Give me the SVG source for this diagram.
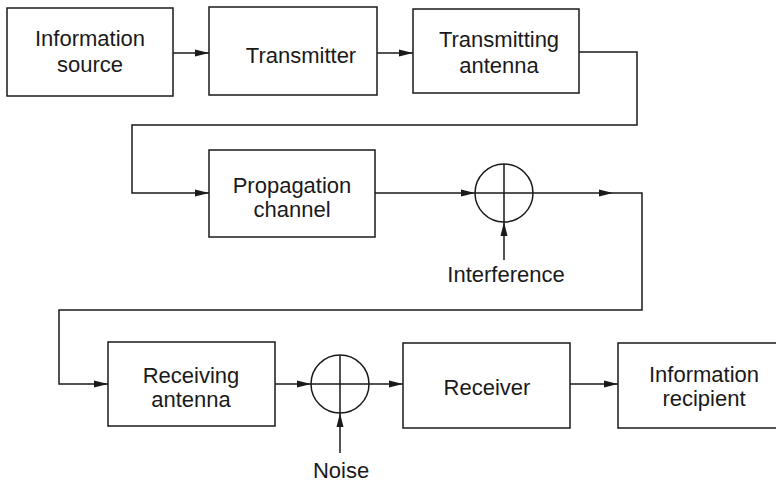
<svg xmlns="http://www.w3.org/2000/svg" width="776" height="485" viewBox="0 0 776 485">
<defs>
<marker id="arr" markerUnits="userSpaceOnUse" markerWidth="14" markerHeight="8" refX="14" refY="4" orient="auto">
<path d="M0,0.5 L14,4 L0,7.5 z" fill="#1a1a1a"/>
</marker>
</defs>
<style>
.box{fill:#fff;stroke:#1a1a1a;stroke-width:1.5}
.ln{fill:none;stroke:#1a1a1a;stroke-width:1.5}
.t{font-family:"Liberation Sans",Arial,sans-serif;font-size:22px;fill:#1a1a1a;text-anchor:middle}
</style>
<rect width="776" height="485" fill="#fff"/>
<g id="connectors">
<path class="ln" d="M173,53 H209" marker-end="url(#arr)"/>
<path class="ln" d="M377,53 H413" marker-end="url(#arr)"/>
<path class="ln" d="M579,52 H637 V125 H132 V193 H209" marker-end="url(#arr)"/>
<path class="ln" d="M375,193 H475" marker-end="url(#arr)"/>
<path class="ln" d="M533,193 H613" marker-end="url(#arr)"/>
<path class="ln" d="M613,193 H642 V310 H59 V384 H108" marker-end="url(#arr)"/>
<path class="ln" d="M275,384 H311" marker-end="url(#arr)"/>
<path class="ln" d="M369,384 H403" marker-end="url(#arr)"/>
<path class="ln" d="M570,384 H618" marker-end="url(#arr)"/>
<path class="ln" d="M504,260 V222" marker-end="url(#arr)"/>
<path class="ln" d="M340,453 V413" marker-end="url(#arr)"/>
</g>
<g id="info-source">
<rect class="box" x="7" y="8" width="166" height="88"/>
<text class="t" x="90" y="46">Information</text>
<text class="t" x="90" y="72">source</text>
</g>
<g id="transmitter">
<rect class="box" x="209" y="7" width="168" height="88"/>
<text class="t" x="301" y="63">Transmitter</text>
</g>
<g id="transmitting-antenna">
<rect class="box" x="413" y="9" width="166" height="84"/>
<text class="t" x="499" y="47">Transmitting</text>
<text class="t" x="499" y="73">antenna</text>
</g>
<g id="propagation-channel">
<rect class="box" x="209" y="150" width="166" height="87"/>
<text class="t" x="292" y="193">Propagation</text>
<text class="t" x="292" y="217">channel</text>
</g>
<g id="sum1">
<circle class="ln" cx="504" cy="193" r="29"/>
<path class="ln" d="M475,193 H533 M504,164 V222"/>
</g>
<g id="interference">
<text class="t" x="506" y="282">Interference</text>
</g>
<g id="receiving-antenna">
<rect class="box" x="108" y="342" width="167" height="84"/>
<text class="t" x="191" y="383">Receiving</text>
<text class="t" x="191" y="407">antenna</text>
</g>
<g id="sum2">
<circle class="ln" cx="340" cy="384" r="29"/>
<path class="ln" d="M311,384 H369 M340,355 V413"/>
</g>
<g id="noise">
<text class="t" x="341" y="478">Noise</text>
</g>
<g id="receiver">
<rect class="box" x="403" y="343" width="167" height="85"/>
<text class="t" x="487" y="395">Receiver</text>
</g>
<g id="info-recipient">
<rect class="box" x="618" y="343" width="172" height="85"/>
<text class="t" x="704" y="382">Information</text>
<text class="t" x="704" y="406">recipient</text>
</g>
</svg>
